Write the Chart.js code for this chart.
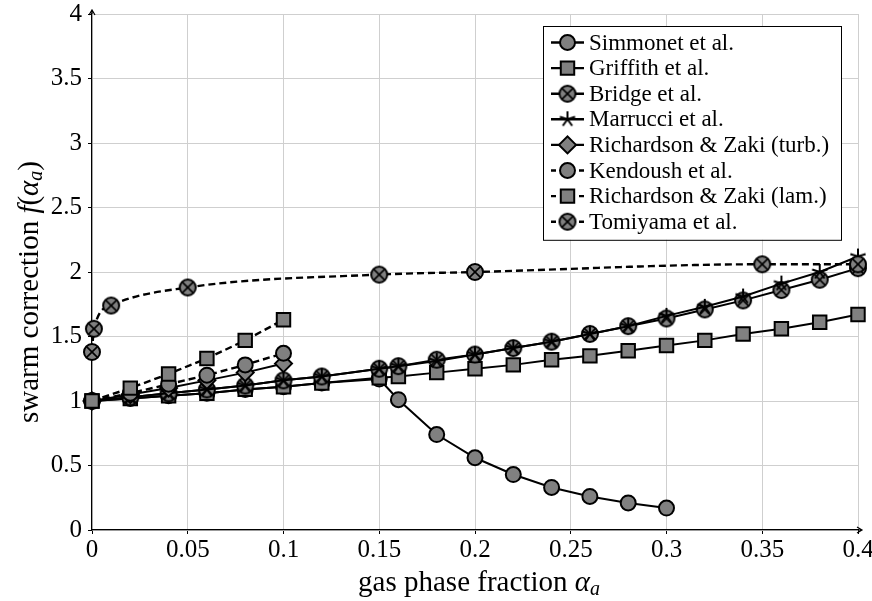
<!DOCTYPE html>
<html>
<head>
<meta charset="utf-8">
<script src="https://cdn.jsdelivr.net/npm/chart.js@4.4.1/dist/chart.umd.min.js"></script>
<style>
  html, body { margin: 0; padding: 0; background: #fff; }
  #wrap { width: 872px; height: 601px; }
</style>
</head>
<body>
<div id="wrap"><canvas id="chart" width="872" height="601"></canvas></div>
<script>
// gas phase fraction values used by the curves
const alphaFull = [0, 0.02, 0.04, 0.06, 0.08, 0.1, 0.12, 0.15, 0.16, 0.18, 0.2, 0.22, 0.24, 0.26, 0.28, 0.3, 0.32, 0.34, 0.36, 0.38, 0.4];
const alphaSimonnet = [0, 0.02, 0.04, 0.06, 0.08, 0.1, 0.12, 0.15, 0.16, 0.18, 0.2, 0.22, 0.24, 0.26, 0.28, 0.3];
const alphaLow = [0, 0.02, 0.04, 0.06, 0.08, 0.1];
const alphaTomiyama = [0, 0.001, 0.01, 0.05, 0.15, 0.2, 0.35, 0.4];

// swarm correction f(alpha)
const simonnet = [1, 1.02, 1.04, 1.06, 1.09, 1.11, 1.14, 1.17, 1.01, 0.74, 0.56, 0.43, 0.33, 0.26, 0.21, 0.17];
const griffith = [1, 1.02, 1.04, 1.06, 1.09, 1.11, 1.14, 1.18, 1.19, 1.22, 1.25, 1.28, 1.32, 1.35, 1.39, 1.43, 1.47, 1.52, 1.56, 1.61, 1.67];
const bridge = [1, 1.03, 1.06, 1.09, 1.12, 1.16, 1.19, 1.25, 1.27, 1.32, 1.36, 1.41, 1.46, 1.52, 1.58, 1.64, 1.71, 1.78, 1.86, 1.94, 2.03];
const marrucci = [1, 1.03, 1.06, 1.09, 1.12, 1.16, 1.19, 1.25, 1.27, 1.31, 1.36, 1.41, 1.46, 1.52, 1.58, 1.66, 1.73, 1.81, 1.91, 2.00, 2.12];
const rzTurb = [1, 1.05, 1.10, 1.16, 1.22, 1.29];
const kendoush = [1, 1.06, 1.13, 1.20, 1.28, 1.37];
const rzLam = [1, 1.10, 1.21, 1.33, 1.47, 1.63];
const tomiyama = [1.38, 1.56, 1.74, 1.88, 1.98, 2.00, 2.06, 2.06];

const seriesNames = [
  "Simmonet et al.", "Griffith et al.", "Bridge et al.", "Marrucci et al.",
  "Richardson & Zaki (turb.)", "Kendoush et al.", "Richardson & Zaki (lam.)", "Tomiyama et al."
];

const xTicks = [0, 0.05, 0.1, 0.15, 0.2, 0.25, 0.3, 0.35, 0.4];
const yTicks = [0, 0.5, 1, 1.5, 2, 2.5, 3, 3.5, 4];

const FONT = "'Liberation Serif', 'DejaVu Serif', serif";
const GRAY = "#808080";

function otimesMarker(r) {
  const c = document.createElement("canvas");
  const s = Math.ceil(2 * r + 4);
  c.width = c.height = s;
  const g = c.getContext("2d");
  const m = s / 2;
  g.beginPath();
  g.arc(m, m, r, 0, 2 * Math.PI);
  g.fillStyle = GRAY;
  g.fill();
  g.lineWidth = 2;
  g.strokeStyle = "#000";
  g.stroke();
  const d = r * 0.68;
  g.beginPath();
  g.moveTo(m - d, m - d); g.lineTo(m + d, m + d);
  g.moveTo(m + d, m - d); g.lineTo(m - d, m + d);
  g.lineWidth = 1.6;
  g.stroke();
  return c;
}

function starMarker(r) {
  const c = document.createElement("canvas");
  const s = Math.ceil(2 * r + 4);
  c.width = c.height = s;
  const g = c.getContext("2d");
  const m = s / 2;
  g.beginPath();
  for (let k = 0; k < 5; k++) {
    const a = -Math.PI / 2 + k * 2 * Math.PI / 5;
    g.moveTo(m, m);
    g.lineTo(m + r * Math.cos(a), m + r * Math.sin(a));
  }
  g.lineWidth = 2;
  g.strokeStyle = "#000";
  g.stroke();
  return c;
}

const otimes = otimesMarker(8);
const star = starMarker(8);

function pts(xs, ys) {
  return ys.map((y, i) => ({ x: xs[i], y: y }));
}

function series(i, xs, ys, style, radius, dashed, extra) {
  return Object.assign({
    label: seriesNames[i],
    data: pts(xs, ys),
    borderColor: "#000",
    borderWidth: dashed ? 2.4 : 2,
    borderDash: dashed ? [7, 4] : [],
    backgroundColor: GRAY,
    pointStyle: style,
    pointRadius: radius,
    pointBackgroundColor: GRAY,
    pointBorderColor: "#000",
    pointBorderWidth: 2,
    tension: 0,
    fill: false,
    clip: false,
    order: 7 - i
  }, extra || {});
}

const datasets = [
  series(0, alphaSimonnet, simonnet, "circle", 7.5, false),
  series(1, alphaFull, griffith, "rect", 9.5, false),
  series(2, alphaFull, bridge, otimes, 8, false),
  series(3, alphaFull, marrucci, star, 8, false),
  series(4, alphaLow, rzTurb, "rectRot", 8.5, false),
  series(5, alphaLow, kendoush, "circle", 7.5, true),
  series(6, alphaLow, rzLam, "rect", 9.5, true),
  series(7, alphaTomiyama, tomiyama, otimes, 8, true, { cubicInterpolationMode: "monotone" })
];

// legend box with line-marker-line symbols
const boxLegend = {
  id: "boxLegend",
  afterDraw(chart) {
    const ctx = chart.ctx;
    const x0 = 543, y0 = 26, w = 298, rowH = 25.6;
    const h = rowH * chart.data.datasets.length + 9;
    ctx.save();
    ctx.fillStyle = "#fff";
    ctx.fillRect(x0, y0, w, h);
    ctx.strokeStyle = "#000";
    ctx.lineWidth = 1;
    ctx.strokeRect(x0 + 0.5, y0 + 0.5, w, h);
    chart.data.datasets.forEach((ds, i) => {
      const cy = y0 + 16.5 + i * rowH;
      const lx = 551, rx = 584, mx = 567.5;
      ctx.strokeStyle = "#000";
      ctx.lineWidth = 2.4;
      ctx.setLineDash([]);
      ctx.beginPath();
      if (ds.borderDash && ds.borderDash.length) {
        ctx.moveTo(lx, cy); ctx.lineTo(lx + 5, cy);
        ctx.moveTo(rx - 5, cy); ctx.lineTo(rx, cy);
      } else {
        ctx.moveTo(lx, cy); ctx.lineTo(rx, cy);
      }
      ctx.stroke();
      ctx.fillStyle = GRAY;
      ctx.strokeStyle = "#000";
      ctx.lineWidth = 2;
      Chart.helpers.drawPoint(ctx, {
        pointStyle: ds.pointStyle, rotation: 0, radius: ds.pointRadius, borderWidth: 2
      }, mx, cy);
      ctx.fillStyle = "#000";
      ctx.font = "23px " + FONT;
      ctx.textBaseline = "middle";
      ctx.textAlign = "left";
      ctx.fillText(ds.label, 589, cy + 1);
    });
    ctx.restore();
  }
};

function drawRich(ctx, parts, cx, cy, rot) {
  ctx.save();
  ctx.translate(cx, cy);
  ctx.rotate(rot);
  let total = 0;
  parts.forEach(p => { ctx.font = p.font; p.w = ctx.measureText(p.t).width; total += p.w; });
  let x = -total / 2;
  ctx.textBaseline = "middle";
  ctx.textAlign = "left";
  ctx.fillStyle = "#000";
  parts.forEach(p => { ctx.font = p.font; ctx.fillText(p.t, x, p.dy || 0); x += p.w; });
  ctx.restore();
}

// axis titles with italic math, and arrow heads on the axes
const axisDecor = {
  id: "axisDecor",
  afterDraw(chart) {
    const ctx = chart.ctx;
    const a = chart.chartArea;
    const big = "29px " + FONT, it = "italic 29px " + FONT, sub = "italic 20px " + FONT;
    drawRich(ctx, [
      { t: "gas phase fraction ", font: big },
      { t: "α", font: it },
      { t: "a", font: sub, dy: 7 }
    ], 479, 583, 0);
    drawRich(ctx, [
      { t: "swarm correction ", font: big },
      { t: "f", font: it },
      { t: "(", font: big },
      { t: "α", font: it },
      { t: "a", font: sub, dy: 7 },
      { t: ")", font: big }
    ], 30, 292, -Math.PI / 2);

    ctx.save();
    ctx.strokeStyle = "#000";
    ctx.lineWidth = 1.2;
    ctx.beginPath();
    ctx.moveTo(a.left, a.top); ctx.lineTo(a.left, a.top - 4);
    ctx.moveTo(a.left - 3, a.top + 1); ctx.lineTo(a.left, a.top - 4); ctx.lineTo(a.left + 3, a.top + 1);
    ctx.moveTo(a.right, a.bottom); ctx.lineTo(a.right + 4, a.bottom);
    ctx.moveTo(a.right - 1, a.bottom - 3); ctx.lineTo(a.right + 4, a.bottom); ctx.lineTo(a.right - 1, a.bottom + 3);
    ctx.stroke();
    ctx.restore();
  }
};

new Chart(document.getElementById("chart").getContext("2d"), {
  type: "line",
  data: { datasets: datasets },
  options: {
    responsive: false,
    animation: false,
    devicePixelRatio: 1,
    layout: { padding: { left: 0, right: 14, top: 14, bottom: 0 } },
    plugins: { legend: { display: false }, tooltip: { enabled: false } },
    scales: {
      x: {
        type: "linear",
        min: 0,
        max: 0.4,
        afterBuildTicks: s => { s.ticks = xTicks.map(v => ({ value: v })); },
        afterFit: s => { s.height = 71; s.paddingLeft = 0; s.paddingRight = 0; },
        ticks: {
          callback: v => String(v),
          font: { family: FONT, size: 25 },
          color: "#000",
          padding: 1,
          maxRotation: 0,
          autoSkip: false
        },
        grid: { color: "#cfcfcf", lineWidth: 1, tickColor: "#000", tickLength: 4 },
        border: { color: "#000", width: 1.2 }
      },
      y: {
        type: "linear",
        min: 0,
        max: 4,
        afterBuildTicks: s => { s.ticks = yTicks.map(v => ({ value: v })); },
        afterFit: s => { s.width = 92; s.paddingTop = 0; s.paddingBottom = 0; },
        ticks: {
          callback: v => String(v),
          font: { family: FONT, size: 25 },
          color: "#000",
          padding: 6,
          autoSkip: false
        },
        grid: { color: "#cfcfcf", lineWidth: 1, tickColor: "#000", tickLength: 4 },
        border: { color: "#000", width: 1.2 }
      }
    }
  },
  plugins: [boxLegend, axisDecor]
});
</script>
</body>
</html>
